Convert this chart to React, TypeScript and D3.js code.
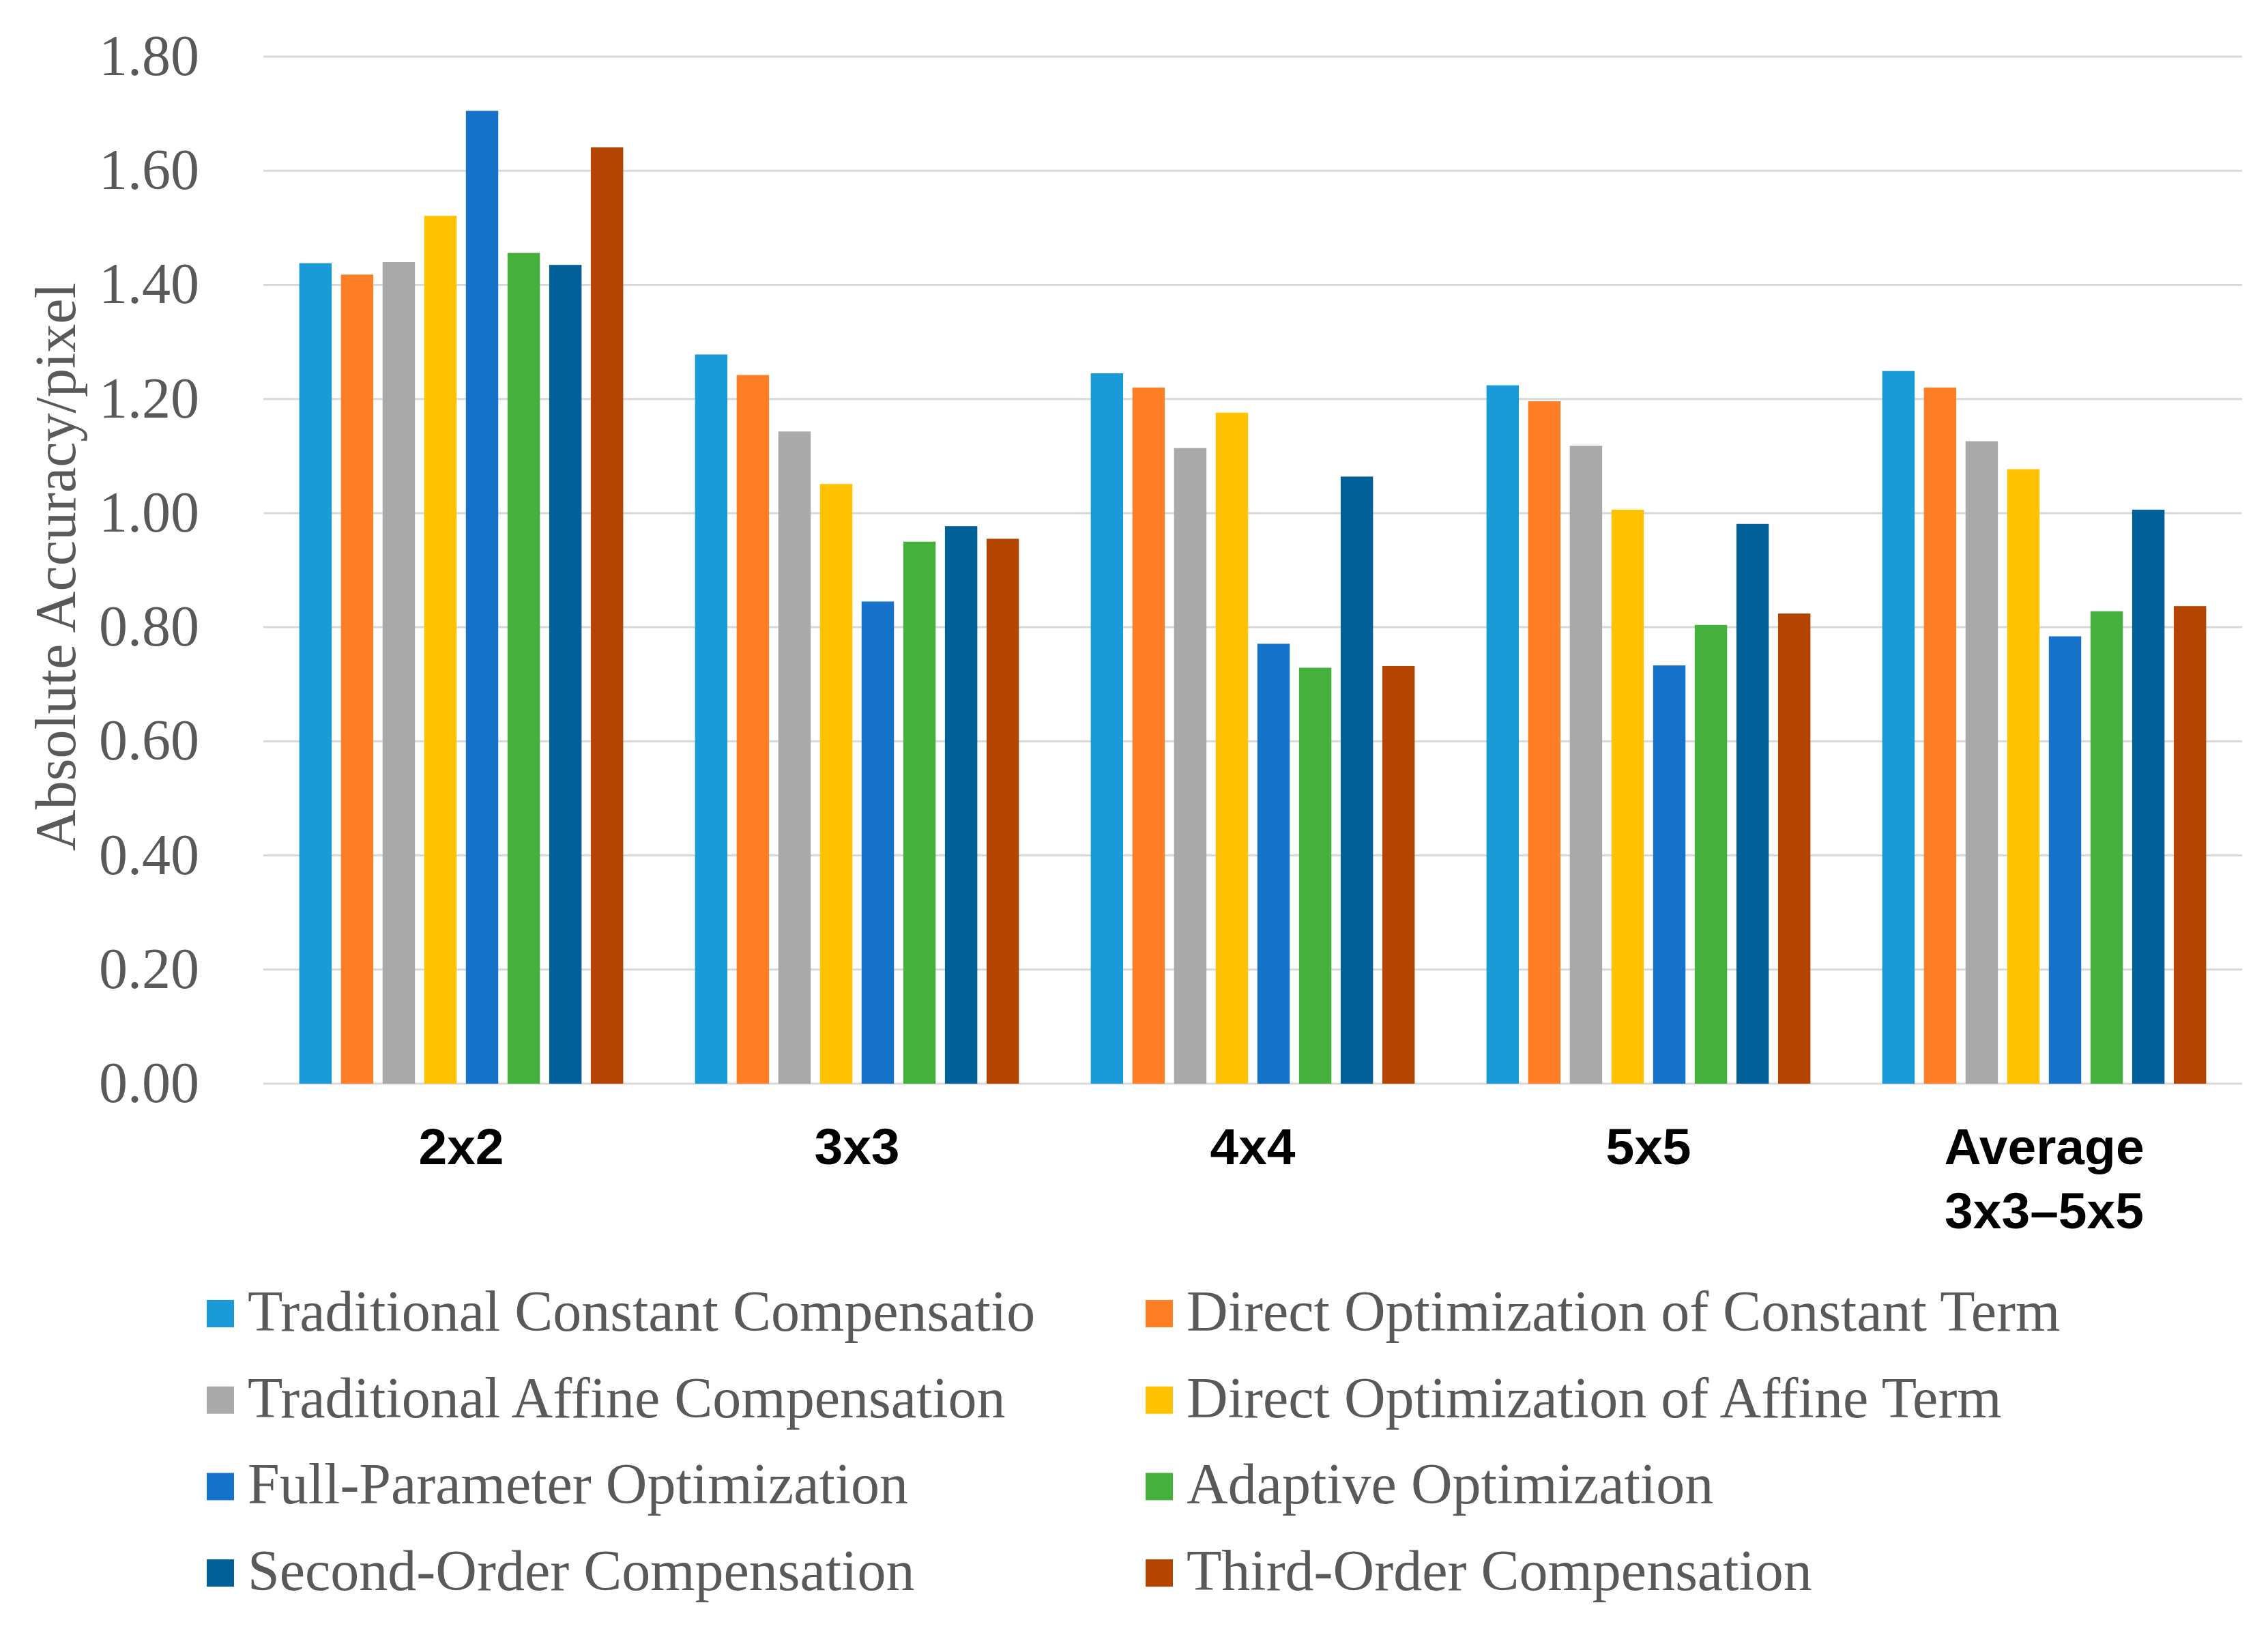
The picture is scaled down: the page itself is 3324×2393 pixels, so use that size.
import { useEffect } from 'react'
import * as d3 from 'd3'

const W = 3324
const H = 2393

const categories = ['2x2', '3x3', '4x4', '5x5', 'Average\n3x3–5x5']

const seriesNames = [
  'Traditional Constant Compensatio',
  'Direct Optimization of Constant Term',
  'Traditional Affine Compensation',
  'Direct Optimization of Affine Term',
  'Full-Parameter Optimization',
  'Adaptive Optimization',
  'Second-Order Compensation',
  'Third-Order Compensation',
]

const seriesColors = ['#1a9bd8', '#ff7f27', '#a9a9a9', '#ffc100', '#1672c9', '#46b03c', '#006097', '#b34500']

// values per series, one per category
const tradConst = [1.438, 1.278, 1.245, 1.224, 1.249]
const directConst = [1.418, 1.242, 1.220, 1.196, 1.220]
const tradAffine = [1.440, 1.143, 1.114, 1.118, 1.126]
const directAffine = [1.521, 1.051, 1.176, 1.006, 1.077]
const fullParam = [1.705, 0.845, 0.771, 0.733, 0.784]
const adaptive = [1.456, 0.950, 0.729, 0.804, 0.828]
const secondOrder = [1.435, 0.977, 1.064, 0.981, 1.006]
const thirdOrder = [1.641, 0.955, 0.732, 0.824, 0.837]

const seriesValues = [tradConst, directConst, tradAffine, directAffine, fullParam, adaptive, secondOrder, thirdOrder]

const yTicks = [0, 0.2, 0.4, 0.6, 0.8, 1.0, 1.2, 1.4, 1.6, 1.8]

const serif = '"Liberation Serif", "Times New Roman", serif'
const sans = '"Liberation Sans", Arial, sans-serif'
const textGray = '#595959'

export default function App() {
  useEffect(() => { document.body.style.margin = '0' }, [])

  const left = 386, right = 3286, top = 83, bottom = 1588

  const x0 = d3.scaleBand<string>().domain(categories).range([left, right])
  const x1 = d3.scaleBand<number>().domain(d3.range(seriesNames.length))
    .range([0, x0.bandwidth()]).paddingInner(0.223).paddingOuter(0.862)
  const y = d3.scaleLinear().domain([0, 1.8]).range([bottom, top])

  return (
    <svg width={W} height={H} style={{ display: 'block', background: '#fff' }}>
      {/* gridlines */}
      {yTicks.map(t => (
        <line key={t} x1={left} x2={right} y1={y(t)} y2={y(t)} stroke="#d9d9d9" strokeWidth={3} />
      ))}
      {/* y tick labels */}
      {yTicks.map(t => (
        <text key={'l' + t} x={292} y={y(t) + 27} textAnchor="end" fontFamily={serif} fontSize={84} fill={textGray}>
          {d3.format('.2f')(t)}
        </text>
      ))}
      {/* y axis title */}
      <text transform={`translate(110, ${(top + bottom) / 2 - 5}) rotate(-90)`} textAnchor="middle"
        fontFamily={serif} fontSize={84} fill={textGray}>Absolute Accuracy/pixel</text>

      {/* bars */}
      {categories.map((c, ci) => (
        <g key={c} transform={`translate(${x0(c)},0)`}>
          {seriesValues.map((vals, si) => (
            <rect key={si} x={x1(si)} y={y(vals[ci])} width={x1.bandwidth()} height={y(0) - y(vals[ci])}
              fill={seriesColors[si]} />
          ))}
        </g>
      ))}

      {/* x labels */}
      {categories.map(c => (
        <text key={'x' + c} x={x0(c)! + x0.bandwidth() / 2} y={1706} textAnchor="middle"
          fontFamily={sans} fontWeight="bold" fontSize={75} fill="#000">
          {c.split('\n').map((line, i) => (
            <tspan key={i} x={x0(c)! + x0.bandwidth() / 2} dy={i === 0 ? 0 : 94}>{line}</tspan>
          ))}
        </text>
      ))}

      {/* legend */}
      {seriesNames.map((name, i) => {
        const col = i % 2, row = Math.floor(i / 2)
        const sx = col === 0 ? 303 : 1679
        const by = 1950 + row * 126.7
        return (
          <g key={name}>
            <rect x={sx} y={by - 45} width={40} height={40} fill={seriesColors[i]} />
            <text x={sx + 60} y={by} fontFamily={serif} fontSize={84} fill={textGray}>{name}</text>
          </g>
        )
      })}
    </svg>
  )
}
